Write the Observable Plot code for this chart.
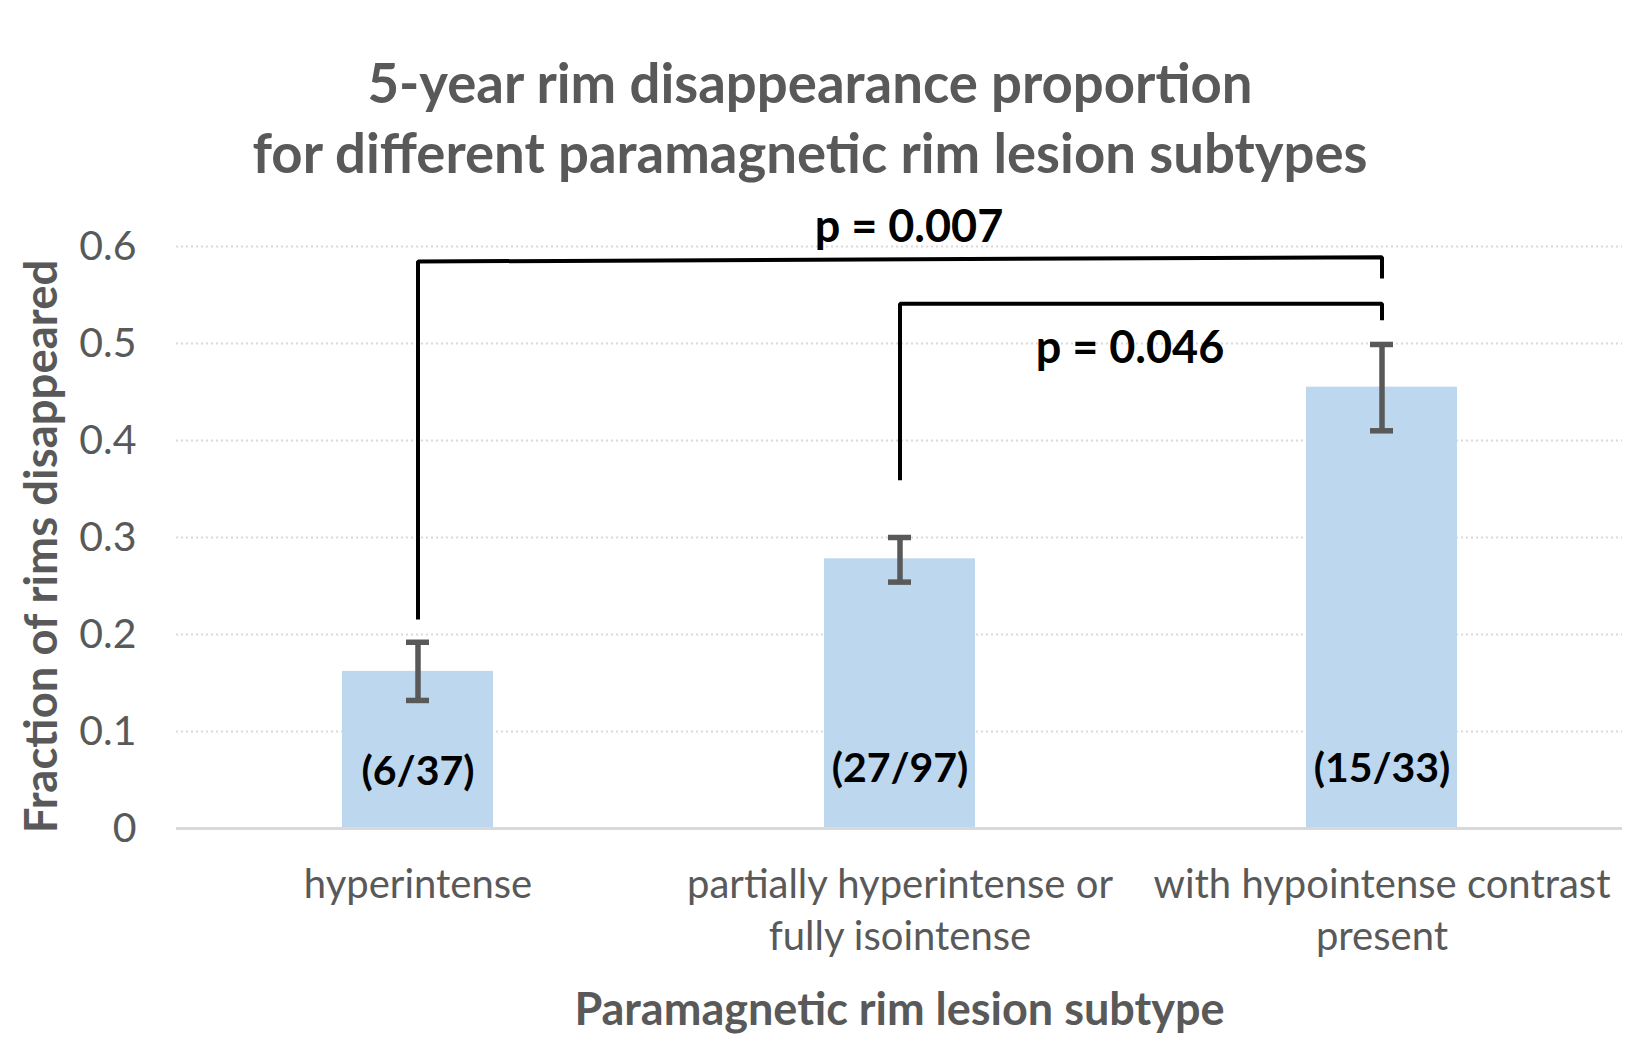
<!DOCTYPE html>
<html>
<head>
<meta charset="utf-8">
<script src="https://cdn.jsdelivr.net/npm/d3@7"></script>
<script src="https://cdn.jsdelivr.net/npm/@observablehq/plot@0.6"></script>
<style>
  body { margin: 0; background: #fff; font-family: Lato, sans-serif; }
  #title { width: 1620px; height: 190px; box-sizing: border-box; padding-top: 47px;
           text-align: center; color: #595959; font-weight: bold; font-size: 54.5px; line-height: 70px; }
  #chart svg { display: block; }
</style>
</head>
<body>
<div id="title">5-year rim disappearance proportion<br>for different paramagnetic rim lesion subtypes</div>
<div id="chart"></div>
<script>
// ---- data ----
const categories = [
  "hyperintense",
  "partially hyperintense or\nfully isointense",
  "with hypointense contrast\npresent"
];
const fractions = [0.162, 0.278, 0.455];
const countLabels = ["(6/37)", "(27/97)", "(15/33)"];
const errLow = [0.132, 0.254, 0.410];
const errHigh = [0.192, 0.300, 0.499];
const yTicks = [0, 0.1, 0.2, 0.3, 0.4, 0.5, 0.6];
const countLabelY = [0.058, 0.061, 0.061];

// significance brackets: [category index, y]
const bracket1 = [[0, 0.2155], [0, 0.5845], [2, 0.589], [2, 0.567]];
const bracket2 = [[1, 0.359], [1, 0.541], [2, 0.541], [2, 0.524]];
const pLabels = ["p = 0.007", "p = 0.046"];
const pLabelY = [0.619, 0.495];
const pLabelCat = [1, 1];

const xTitle = "Paramagnetic rim lesion subtype";
const yTitle = "Fraction of rims disappeared";

// ---- tables ----
const bars = categories.map((c, i) => ({
  cat: c, value: fractions[i], lo: errLow[i], hi: errHigh[i],
  label: countLabels[i], ly: countLabelY[i]
}));
const brackets = [
  ...bracket1.map(([i, y]) => ({id: "b1", cat: categories[i], y})),
  ...bracket2.map(([i, y]) => ({id: "b2", cat: categories[i], y}))
];
const pData = pLabels.map((t, i) => ({text: t, y: pLabelY[i], cat: categories[pLabelCat[i]]}));

const plot = Plot.plot({
  width: 1644,
  height: 866,
  marginTop: 56,
  marginBottom: 228,
  marginLeft: 176,
  marginRight: 22,
  style: { fontFamily: "Lato, sans-serif", color: "#595959", background: "#fff", overflow: "visible" },
  x: { domain: categories, paddingInner: 0.687, paddingOuter: 0.3435 },
  y: { domain: [0, 0.6] },
  marks: [
    Plot.ruleY(yTicks.filter(d => d > 0), { stroke: "#D9D9D9", strokeWidth: 2, strokeDasharray: "2,3" }),
    Plot.barY(bars, { x: "cat", y: "value", fill: "#BDD7EE" }),
    Plot.ruleY([0], { stroke: "#D9D9D9", strokeWidth: 3 }),
    Plot.axisY({ ticks: yTicks, tickSize: 0, tickPadding: 40, fontSize: 41, label: null,
                 tickFormat: d => d === 0 ? "0" : d.toFixed(1) }),
    Plot.axisX({ tickSize: 0, tickPadding: 33, fontSize: 40, lineHeight: 1.3, label: null }),
    Plot.ruleX(bars, { x: "cat", y1: "lo", y2: "hi", stroke: "#595959", strokeWidth: 5.5 }),
    Plot.tickY(bars, { x: "cat", y: "lo", stroke: "#595959", strokeWidth: 5.5, insetLeft: 64, insetRight: 64 }),
    Plot.tickY(bars, { x: "cat", y: "hi", stroke: "#595959", strokeWidth: 5.5, insetLeft: 64, insetRight: 64 }),
    Plot.line(brackets, { x: "cat", y: "y", z: "id", stroke: "#000", strokeWidth: 4,
                          strokeLinejoin: "miter", strokeLinecap: "butt" }),
    Plot.text(bars, { x: "cat", y: "ly", text: "label", fontSize: 41, fontWeight: "bold", fill: "#000" }),
    Plot.text(pData.slice(0, 1), { x: "cat", y: "y", text: "text", fontSize: 45, fontWeight: "bold", fill: "#000", dx: 9 }),
    Plot.text(pData.slice(1), { x: "cat", y: "y", text: "text", fontSize: 45, fontWeight: "bold", fill: "#000", dx: 230 }),
    Plot.text([yTitle], { frameAnchor: "left", textAnchor: "middle", rotate: -90, dx: -134, dy: 9, fontSize: 45.5, fontWeight: "bold", fill: "#595959" }),
    Plot.text([xTitle], { frameAnchor: "bottom", dy: 196, fontSize: 45, fontWeight: "bold", fill: "#595959" })
  ]
});
document.getElementById("chart").appendChild(plot);
</script>
</body>
</html>
